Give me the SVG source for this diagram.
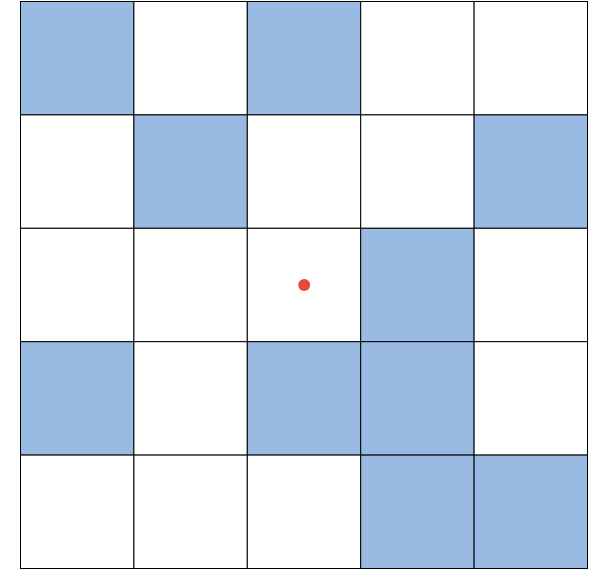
<svg xmlns="http://www.w3.org/2000/svg" width="594" height="569" viewBox="0 0 594 569">
<style>
.c{fill:#ffffff;stroke:#000000;stroke-width:1}
.b{fill:#99bbe3;stroke:#000000;stroke-width:1}
</style>
<rect width="594" height="569" fill="#ffffff"/>
<g id="grid">
<rect class="b" x="20.5" y="1.5" width="113.4" height="113.4"/>
<rect class="c" x="133.9" y="1.5" width="113.4" height="113.4"/>
<rect class="b" x="247.3" y="1.5" width="113.4" height="113.4"/>
<rect class="c" x="360.7" y="1.5" width="113.4" height="113.4"/>
<rect class="c" x="474.1" y="1.5" width="113.4" height="113.4"/>
<rect class="c" x="20.5" y="114.9" width="113.4" height="113.4"/>
<rect class="b" x="133.9" y="114.9" width="113.4" height="113.4"/>
<rect class="c" x="247.3" y="114.9" width="113.4" height="113.4"/>
<rect class="c" x="360.7" y="114.9" width="113.4" height="113.4"/>
<rect class="b" x="474.1" y="114.9" width="113.4" height="113.4"/>
<rect class="c" x="20.5" y="228.3" width="113.4" height="113.4"/>
<rect class="c" x="133.9" y="228.3" width="113.4" height="113.4"/>
<rect class="c" x="247.3" y="228.3" width="113.4" height="113.4"/>
<rect class="b" x="360.7" y="228.3" width="113.4" height="113.4"/>
<rect class="c" x="474.1" y="228.3" width="113.4" height="113.4"/>
<rect class="b" x="20.5" y="341.7" width="113.4" height="113.4"/>
<rect class="c" x="133.9" y="341.7" width="113.4" height="113.4"/>
<rect class="b" x="247.3" y="341.7" width="113.4" height="113.4"/>
<rect class="b" x="360.7" y="341.7" width="113.4" height="113.4"/>
<rect class="c" x="474.1" y="341.7" width="113.4" height="113.4"/>
<rect class="c" x="20.5" y="455.1" width="113.4" height="113.4"/>
<rect class="c" x="133.9" y="455.1" width="113.4" height="113.4"/>
<rect class="c" x="247.3" y="455.1" width="113.4" height="113.4"/>
<rect class="b" x="360.7" y="455.1" width="113.4" height="113.4"/>
<rect class="b" x="474.1" y="455.1" width="113.4" height="113.4"/>
</g>
<g id="marker">
<circle cx="304.2" cy="285" r="6" fill="#e8473d"/>
</g>
</svg>
